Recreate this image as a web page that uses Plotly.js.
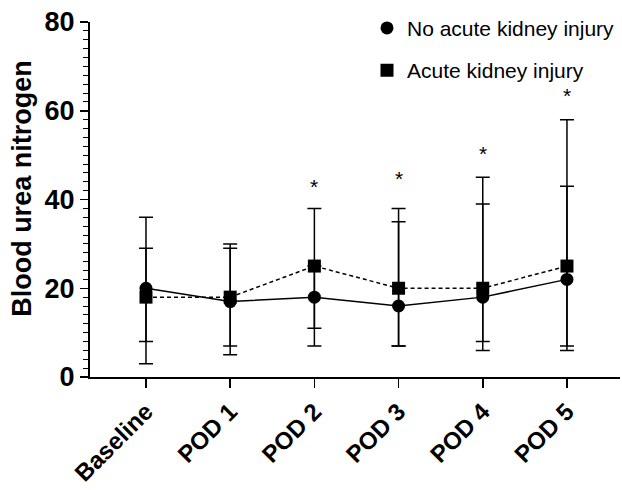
<!DOCTYPE html>
<html>
<head>
<meta charset="utf-8">
<script src="https://cdn.plot.ly/plotly-3.0.1.min.js"></script>
<style>html,body{margin:0;padding:0;background:#fff;}#chart{width:622px;height:490px;}</style>
</head>
<body>
<div id="chart"></div>
<script>
const categories = ["Baseline", "POD 1", "POD 2", "POD 3", "POD 4", "POD 5"];
const noAkiValues = [20, 17, 18, 16, 18, 22];
const noAkiUpper  = [29, 29, 25, 35, 39, 43];
const noAkiLower  = [8, 7, 11, 7, 8, 7];
const akiValues   = [18, 18, 25, 20, 20, 25];
const akiUpper    = [36, 30, 38, 38, 45, 58];
const akiLower    = [3, 5, 7, 7, 6, 6];
const starCategories = ["POD 2", "POD 3", "POD 4", "POD 5"];
const starValues = [43.7, 45.3, 51, 64.1];
const seriesNames = ["No acute kidney injury", "Acute kidney injury"];

const FONT = "Liberation Sans, Arial, sans-serif";
const idx = categories.map((c, i) => i);
const diff = (a, b) => a.map((v, i) => v - b[i]);

const noAki = {
  x: idx, y: noAkiValues, type: "scatter", mode: "lines+markers",
  name: seriesNames[0], showlegend: false,
  line: {color: "#000", width: 1.5},
  marker: {symbol: "circle", size: 13, color: "#000"},
  error_y: {type: "data", symmetric: false, array: diff(noAkiUpper, noAkiValues),
            arrayminus: diff(noAkiValues, noAkiLower), color: "#000", thickness: 1.5, width: 7}
};
const aki = {
  x: idx, y: akiValues, type: "scatter", mode: "lines+markers",
  name: seriesNames[1], showlegend: false,
  line: {color: "#000", width: 1.5, dash: "4px,3px"},
  marker: {symbol: "square", size: 13, color: "#000"},
  error_y: {type: "data", symmetric: false, array: diff(akiUpper, akiValues),
            arrayminus: diff(akiValues, akiLower), color: "#000", thickness: 1.5, width: 7}
};
const legNoAki = {x: [null], y: [null], type: "scatter", mode: "markers", name: seriesNames[0],
  legendgroup: "a", marker: {symbol: "circle", size: 13, color: "#000"}};
const legAki = {x: [null], y: [null], type: "scatter", mode: "markers", name: seriesNames[1],
  legendgroup: "b", marker: {symbol: "square", size: 13, color: "#000"}};

const annotations = starCategories.map((c, i) => ({
  x: categories.indexOf(c), y: starValues[i], xref: "x", yref: "y",
  text: "*", showarrow: false, yanchor: "middle", yshift: -3,
  font: {family: FONT, size: 21, color: "#000"}
}));
annotations.push({
  text: "Blood urea nitrogen", textangle: -90, showarrow: false,
  xref: "paper", yref: "paper", x: 0, y: 0.53, xanchor: "center", yanchor: "middle",
  xshift: -68,
  font: {family: FONT, size: 27, color: "#000", weight: "bold"}
});

const layout = {
  width: 622, height: 490,
  margin: {l: 90, r: 2, t: 22, b: 113},
  paper_bgcolor: "#fff", plot_bgcolor: "#fff",
  showlegend: true,
  legend: {x: 1.0, xanchor: "right", y: 1.04, yanchor: "top", traceorder: "grouped", tracegroupgap: 12,
           font: {family: FONT, size: 21, color: "#000"},
           bgcolor: "rgba(0,0,0,0)", itemwidth: 30},
  xaxis: {
    range: [-0.665, 5.63], tickvals: idx, ticktext: categories, tickangle: -45,
    showline: true, linecolor: "#000", linewidth: 2, ticks: "outside", ticklen: 9, tickwidth: 1.5,
    tickcolor: "#000", showgrid: false, zeroline: false,
    tickfont: {family: FONT, size: 24, color: "#000", weight: "bold"}
  },
  yaxis: {
    range: [0, 80], tickvals: [0, 20, 40, 60, 80], showline: true, linecolor: "#000", linewidth: 2,
    ticks: "outside", ticklen: 8, tickwidth: 1.5, tickcolor: "#000", showgrid: false, zeroline: false,
    minor: {dtick: 2, ticks: "outside", ticklen: 5, tickwidth: 1, tickcolor: "#000", showgrid: false},
    tickfont: {family: FONT, size: 27, color: "#000", weight: "bold"}
  },
  annotations: annotations
};

Plotly.newPlot("chart", [noAki, aki, legNoAki, legAki], layout, {displayModeBar: false, staticPlot: true});
</script>
</body>
</html>
